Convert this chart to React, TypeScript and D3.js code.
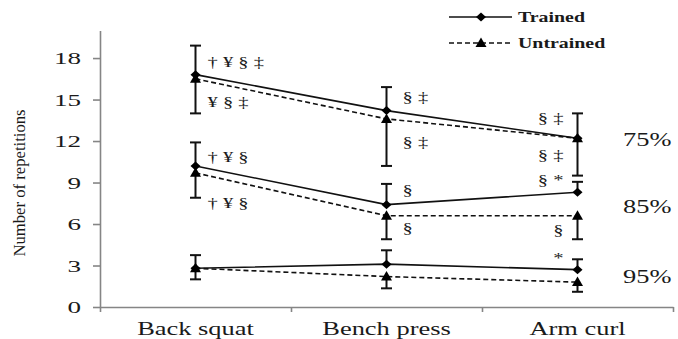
import React, { useEffect, useRef } from 'react';
import * as d3 from 'd3';

const exercises = ['Back squat', 'Bench press', 'Arm curl'];
const yTicks = [0, 3, 6, 9, 12, 15, 18];

// mean repetitions per load
const trained75 = [16.8, 14.2, 12.2];
const untrained75 = [16.5, 13.6, 12.2];
const trained85 = [10.2, 7.4, 8.3];
const untrained85 = [9.7, 6.6, 6.6];
const trained95 = [2.8, 3.1, 2.7];
const untrained95 = [2.8, 2.2, 1.8];

// SD: trained bars go up, untrained bars go down
const trainedSd75 = [2.1, 1.7, 1.8];
const untrainedSd75 = [2.5, 3.4, 2.7];
const trainedSd85 = [1.7, 1.5, 0.75];
const untrainedSd85 = [1.8, 1.7, 1.7];
const trainedSd95 = [0.95, 1.0, 0.75];
const untrainedSd95 = [0.8, 0.85, 0.7];

const loadLabels = ['75%', '85%', '95%'];
const loadLabelValues = [12.1, 7.2, 2.2];

// significance symbols next to the bars
const symbolLabels = ['† ¥ § ‡', '¥ § ‡', '† ¥ §', '† ¥ §', '§ ‡', '§ ‡', '§', '§', '§ ‡', '§ ‡', '§ *', '§', '*'];
const symbolExercise = [0, 0, 0, 0, 1, 1, 1, 1, 2, 2, 2, 2, 2];
const symbolValues = [17.75, 14.85, 10.87, 7.5, 15.15, 11.95, 8.46, 5.71, 13.64, 10.99, 9.18, 5.57, 3.54];

const FONT = '"Liberation Serif", "Times New Roman", serif';
const SX = 1.47; // the original picture is stretched sideways

const App = () => {
  const ref = useRef<SVGSVGElement>(null);

  useEffect(() => {
    const svg = d3.select(ref.current);
    svg.selectAll('*').remove();

    const left = 100;
    const right = 673;
    const bottom = 307;

    const x = d3.scaleBand().domain(exercises).range([left, right]);
    const cx = (i: number) => (x(exercises[i]) as number) + x.bandwidth() / 2;
    const y = d3.scaleLinear().domain([0, 20]).range([bottom, 30.4]);

    // axes
    const yAxis = svg.append('g')
      .attr('transform', `translate(${left},0)`)
      .call(d3.axisLeft(y).tickValues(yTicks).tickSize(7).tickSizeOuter(0).tickFormat(() => ''));
    yAxis.selectAll('path, line').attr('stroke', '#858585').attr('stroke-width', 1.6);

    const xTickScale = d3.scaleLinear().domain([0, 3]).range([left, right]);
    const xAxis = svg.append('g')
      .attr('transform', `translate(0,${bottom})`)
      .call(d3.axisBottom(xTickScale).tickValues([0, 1, 2, 3]).tickSize(5).tickSizeOuter(0).tickFormat(() => ''));
    xAxis.selectAll('path, line').attr('stroke', '#858585').attr('stroke-width', 1.6);

    const addText = (txt: string, tx: number, ty: number, size: number, anchor: string, sx = SX, bold = false) =>
      svg.append('text')
        .attr('transform', `translate(${tx},${ty}) scale(${sx},1)`)
        .attr('text-anchor', anchor)
        .attr('font-family', FONT)
        .attr('font-size', size)
        .attr('font-weight', bold ? 'bold' : 'normal')
        .attr('fill', '#1a1a1a')
        .text(txt);

    yTicks.forEach((v) => addText(String(v), 81, y(v) + 6, 17.5, 'end', 1.55));
    exercises.forEach((e, i) => addText(e, cx(i), 334.5, 18, 'middle'));

    // y title
    svg.append('text')
      .attr('transform', `translate(25,183) scale(1.4,1) rotate(-90)`)
      .attr('text-anchor', 'middle')
      .attr('font-family', FONT)
      .attr('font-size', 12)
      .attr('fill', '#1a1a1a')
      .attr('textLength', 147)
      .attr('lengthAdjust', 'spacingAndGlyphs')
      .text('Number of repetitions');

    const diamond = (px: number, py: number) =>
      `M${px},${py - 4.5}L${px + 5},${py}L${px},${py + 4.5}L${px - 5},${py}Z`;
    const triangle = (px: number, py: number) =>
      `M${px},${py - 5.5}L${px + 5.5},${py + 4}L${px - 5.5},${py + 4}Z`;

    const line = d3.line<number>().x((_, i) => cx(i)).y((d) => y(d));

    const groups = [
      { t: trained75, u: untrained75, ts: trainedSd75, us: untrainedSd75 },
      { t: trained85, u: untrained85, ts: trainedSd85, us: untrainedSd85 },
      { t: trained95, u: untrained95, ts: trainedSd95, us: untrainedSd95 },
    ];

    const errorBar = (i: number, from: number, to: number) => {
      const eb = svg.append('g').attr('stroke', '#111').attr('stroke-width', 2);
      eb.append('line').attr('x1', cx(i)).attr('x2', cx(i)).attr('y1', y(from)).attr('y2', y(to));
      eb.append('line').attr('x1', cx(i) - 5.5).attr('x2', cx(i) + 5.5).attr('y1', y(to)).attr('y2', y(to));
    };

    groups.forEach((g) => {
      g.t.forEach((v, i) => errorBar(i, v, v + g.ts[i]));
      g.u.forEach((v, i) => errorBar(i, v, v - g.us[i]));

      svg.append('path').attr('d', line(g.u)).attr('fill', 'none')
        .attr('stroke', '#111').attr('stroke-width', 1.6).attr('stroke-dasharray', '5,3');
      svg.append('path').attr('d', line(g.t)).attr('fill', 'none')
        .attr('stroke', '#111').attr('stroke-width', 1.6);

      g.u.forEach((v, i) => svg.append('path').attr('d', triangle(cx(i), y(v))).attr('fill', '#000'));
      g.t.forEach((v, i) => svg.append('path').attr('d', diamond(cx(i), y(v))).attr('fill', '#000'));
    });

    // significance symbols
    symbolLabels.forEach((s, k) => {
      const i = symbolExercise[k];
      const onLeft = i === 2;
      const px = onLeft ? cx(i) - 14 : cx(i) + (i === 0 ? 12 : 16);
      addText(s, px, y(symbolValues[k]) + 5, 14, onLeft ? 'end' : 'start');
    });

    loadLabels.forEach((l, k) => addText(l, 623, y(loadLabelValues[k]) + 6, 18, 'start'));

    // legend
    const lg = svg.append('g');
    lg.append('line').attr('x1', 449).attr('x2', 512).attr('y1', 17).attr('y2', 17)
      .attr('stroke', '#111').attr('stroke-width', 1.6);
    lg.append('path').attr('d', diamond(481, 17)).attr('fill', '#000');
    lg.append('line').attr('x1', 449).attr('x2', 512).attr('y1', 43).attr('y2', 43)
      .attr('stroke', '#111').attr('stroke-width', 1.6).attr('stroke-dasharray', '5,3');
    lg.append('path').attr('d', triangle(481, 43)).attr('fill', '#000');
    addText('Trained', 518, 22, 14, 'start', 1.42, true);
    addText('Untrained', 518, 48, 14, 'start', 1.42, true);
  }, []);

  return (
    <svg
      ref={ref}
      width={678}
      height={339}
      style={{ position: 'absolute', left: 0, top: 0, background: '#fff' }}
    />
  );
};

export default App;
